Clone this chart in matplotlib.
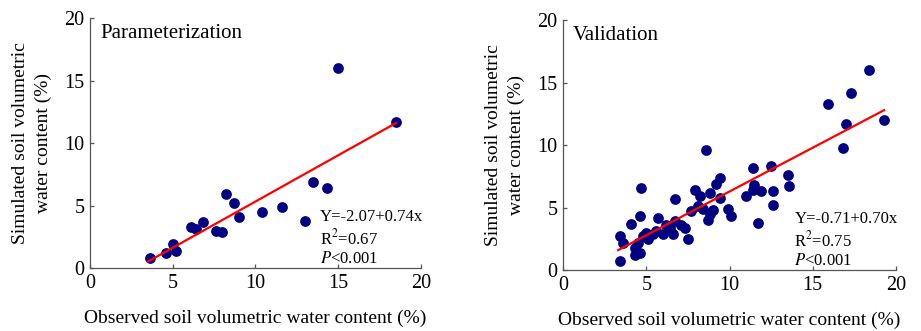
import numpy as np
import matplotlib.pyplot as plt

plt.rcParams['font.family'] = ['Liberation Serif', 'DejaVu Serif']
plt.rcParams['mathtext.fontset'] = 'stix'

# Parameterization set: observed vs simulated soil water content (%)
param_obs = [3.6, 4.6, 5.0, 5.2, 6.1, 6.4, 6.8, 7.6, 8.0, 8.2, 8.7, 9.0,
             10.4, 11.6, 13.0, 13.5, 14.3, 15.0, 18.5]
param_sim = [0.8, 1.2, 1.9, 1.4, 3.3, 3.1, 3.7, 3.0, 2.9, 5.9, 5.2, 4.1,
             4.5, 4.9, 3.8, 6.9, 6.4, 16.0, 11.7]

# Validation set
valid_obs = [3.4, 3.4, 3.6, 4.1, 4.6, 4.7, 4.3, 4.6, 4.3, 4.5, 4.8, 5.1,
             5.4, 5.7, 6.0, 6.2, 6.6, 6.7, 6.7, 7.1, 7.3, 7.5, 7.7, 7.9,
             8.2, 8.4, 8.6, 8.7, 8.8, 8.8, 9.0, 9.2, 9.4, 9.4, 9.9, 10.1,
             11.0, 11.4, 11.4, 11.5, 11.7, 11.9, 12.5, 12.6, 12.6, 13.5,
             13.6, 15.9, 16.8, 17.0, 17.3, 18.4, 19.3, 5.0, 5.6, 6.4, 8.1]
valid_sim = [0.7, 2.7, 2.2, 3.7, 4.3, 6.6, 1.2, 1.4, 1.8, 2.2, 2.7, 2.5,
             2.9, 4.2, 2.9, 3.6, 2.9, 5.7, 3.9, 3.6, 3.4, 2.5, 4.7, 6.4,
             5.9, 4.9, 9.6, 4.0, 6.2, 4.5, 4.8, 6.9, 7.4, 5.8, 4.9, 4.3,
             5.9, 8.2, 6.4, 6.8, 3.8, 6.3, 8.3, 6.3, 5.2, 7.6, 6.7, 13.3,
             9.8, 11.7, 14.2, 16.0, 12.0, 3.0, 3.1, 3.4, 5.1]

param_fit = (-2.07, 0.74, '0.67')
valid_fit = (-0.71, 0.70, '0.75')

fig = plt.figure(figsize=(9.21, 3.31), dpi=100)
ax1 = fig.add_axes([0.0977, 0.19, 0.3594, 0.755])
ax2 = fig.add_axes([0.6116, 0.184, 0.361, 0.755])


def panel(ax, obs, sim, fit, title):
    a, b, r2 = fit
    ax.scatter(obs, sim, s=60, color='#000080', zorder=2, linewidths=0)
    xs = np.array([min(obs) - 0.1, max(obs)])
    ax.plot(xs, a + b * xs, color='red', lw=1.6, zorder=3)
    ax.set_xlim(0, 20)
    ax.set_ylim(0, 20)
    ax.set_xticks([0, 5, 10, 15, 20])
    ax.set_yticks([0, 5, 10, 15, 20])
    for s in ['top', 'right']:
        ax.spines[s].set_visible(False)
    for s in ['left', 'bottom']:
        ax.spines[s].set_color('#555555')
        ax.spines[s].set_linewidth(0.9)
    ax.tick_params(direction='in', length=3, width=0.9, color='#555555',
                   labelsize=14.5, pad=4)
    ax.set_xlabel('Observed soil volumetric water content (%)', fontsize=14,
                  labelpad=12)
    ax.set_ylabel('Simulated soil volumetric\nwater content (%)', fontsize=14,
                  labelpad=9, linespacing=1.45)
    ax.text(0.03, 0.94, title, transform=ax.transAxes, fontsize=15,
            va='center', ha='left')
    sign = '-' if a < 0 else '+'
    ax.text(0.695, 0.205, 'Y=%s%.2f+%.2fx' % (sign, abs(a), b),
            transform=ax.transAxes, fontsize=12, va='center')
    ax.text(0.695, 0.12, 'R$^{2}$=' + r2, transform=ax.transAxes,
            fontsize=12, va='center')
    ax.text(0.695, 0.038, r'$\it{P}$<0.001', transform=ax.transAxes,
            fontsize=12, va='center')


panel(ax1, param_obs, param_sim, param_fit, 'Parameterization')
panel(ax2, valid_obs, valid_sim, valid_fit, 'Validation')

fig.savefig('out.png', dpi=100)
